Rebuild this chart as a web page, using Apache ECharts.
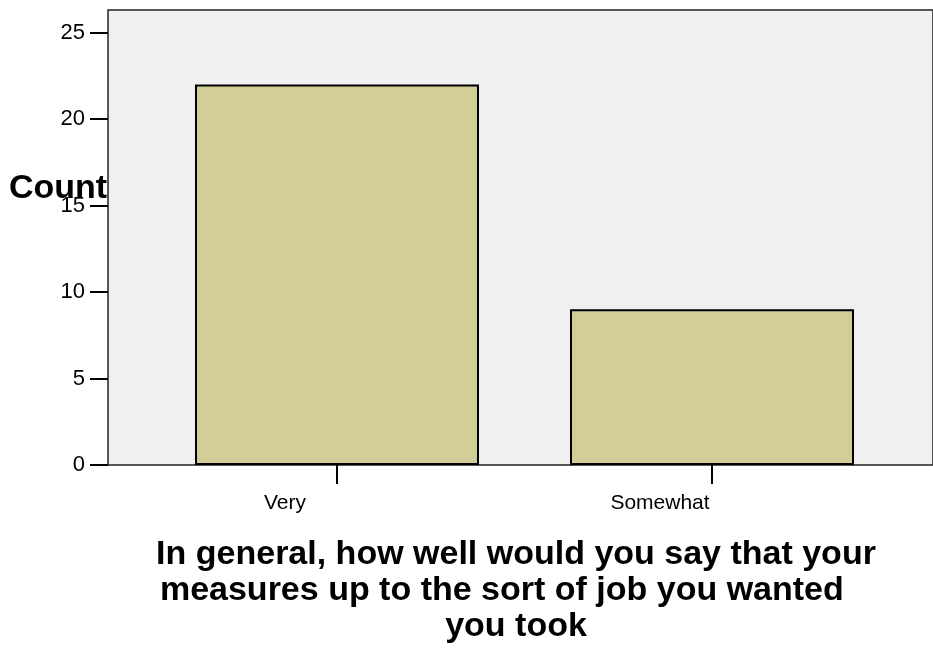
<!DOCTYPE html>
<html>
<head>
<meta charset="utf-8">
<script src="https://cdn.jsdelivr.net/npm/echarts@6/dist/echarts.min.js"></script>
<style>
  html, body { margin: 0; padding: 0; background: #fff; }
  #chart { width: 933px; height: 648px; }
</style>
</head>
<body>
<div id="chart"></div>
<script>
const categories = ['Very', 'Somewhat']
const counts = [22, 9]
const yTicks = [0, 5, 10, 15, 20, 25]
const yMax = 26.3

const chart = echarts.init(document.getElementById('chart'))
const font = 'Liberation Sans, Arial, sans-serif'

const option = {
  backgroundColor: '#fff',
  animation: false,
  grid: [
    // frame + grey plot background, runs off the right edge
    {
      left: 108, top: 10, right: -30, bottom: 183,
      show: true, backgroundColor: '#f0f0f0', borderColor: '#222', borderWidth: 1.5
    },
    // bar area, categories centred on the ticks
    { left: 149.5, top: 10, right: 33.5, bottom: 183 }
  ],
  xAxis: [
    { gridIndex: 0, type: 'value', show: false },
    {
      gridIndex: 1,
      type: 'category',
      data: categories,
      axisLine: { show: false },
      axisTick: { show: true, alignWithLabel: true, length: 19, lineStyle: { color: '#000', width: 2 } },
      axisLabel: {
        color: '#000', fontSize: 21, fontFamily: font, margin: 28,
        padding: [0, 104, 0, 0]
      }
    }
  ],
  yAxis: [
    {
      gridIndex: 0,
      type: 'value',
      min: 0,
      max: yMax,
      axisLine: { show: false },
      splitLine: { show: false },
      axisTick: {
        show: true, inside: false, length: 18, customValues: yTicks,
        lineStyle: { color: '#000', width: 2 }
      },
      axisLabel: { color: '#000', fontSize: 22, fontFamily: font, margin: 23, customValues: yTicks }
    },
    { gridIndex: 1, type: 'value', min: 0, max: yMax, show: false }
  ],
  graphic: [
    {
      type: 'text', x: 9, y: 189,
      style: { text: 'Count', font: 'bold 34px ' + font, fill: '#000', verticalAlign: 'middle' }
    },
    {
      type: 'text', x: 516, y: 537,
      style: {
        text: 'In general, how well would you say that your\nmeasures up to the sort of job you wanted   \nyou took',
        font: 'bold 34px ' + font, fill: '#000', align: 'center', lineHeight: 36
      }
    }
  ],
  series: [
    {
      type: 'bar',
      xAxisIndex: 1,
      yAxisIndex: 1,
      data: counts,
      barWidth: 284,
      itemStyle: { color: '#d3cd98', borderColor: '#000', borderWidth: 2 }
    }
  ]
}

chart.setOption(option)
</script>
</body>
</html>
